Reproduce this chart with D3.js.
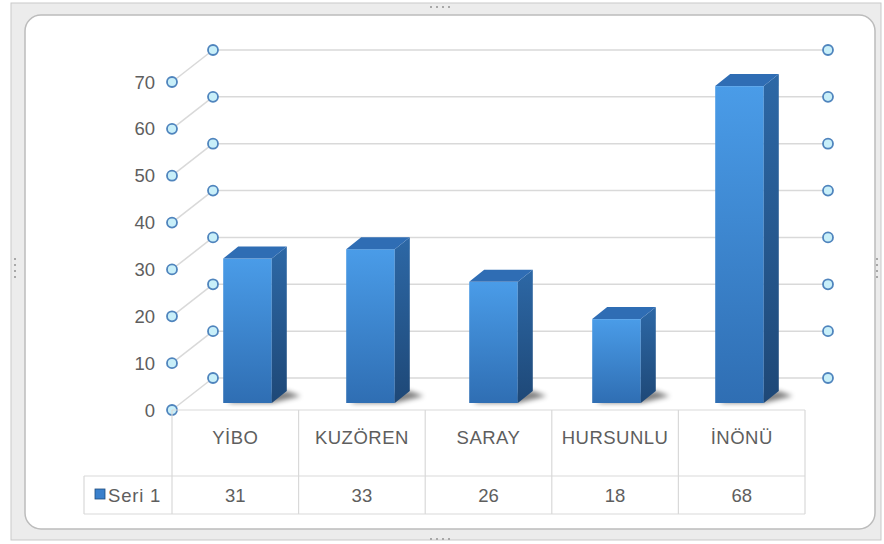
<!DOCTYPE html>
<html>
<head>
<meta charset="utf-8">
<script src="https://cdn.jsdelivr.net/npm/d3@7"></script>
<style>
    body { margin: 0; background: #fff; }
    svg { display: block; font-family: "Liberation Sans", Arial, sans-serif; }
</style>
</head>
<body>
<svg id="chart" width="884" height="544"></svg>
<script>
const categories = ['YİBO', 'KUZÖREN', 'SARAY', 'HURSUNLU', 'İNÖNÜ'];
const values = [31, 33, 26, 18, 68];
const seriesName = 'Seri 1';
const yTicks = [0, 10, 20, 30, 40, 50, 60, 70];

const svg = d3.select('#chart');

// front plane, back wall and bar plane share the same value domain
const yFront = d3.scaleLinear().domain([0, 70]).range([410, 82]);
const yBack = d3.scaleLinear().domain([0, 70]).range([378, 50]);
const yBar = d3.scaleLinear().domain([0, 70]).range([403, 403 - 70 * 4.66]);

const xTable = d3.scaleBand().domain(categories).range([172, 805]);
const xBar = d3.scaleBand().domain(categories).range([186, 801])
    .paddingInner(0.605).paddingOuter(0.3025);

const backLeft = 213, backRight = 828;
const sideDx = 15, sideDy = 12;
const textColor = '#5e5e5e';

const defs = svg.append('defs');

const front = defs.append('linearGradient').attr('id', 'front')
    .attr('x1', 0).attr('y1', 0).attr('x2', 0).attr('y2', 1);
front.append('stop').attr('offset', '0%').attr('stop-color', '#4a9ce8');
front.append('stop').attr('offset', '100%').attr('stop-color', '#2f6eb3');

const side = defs.append('linearGradient').attr('id', 'side')
    .attr('x1', 0).attr('y1', 0).attr('x2', 0).attr('y2', 1);
side.append('stop').attr('offset', '0%').attr('stop-color', '#2d68a6');
side.append('stop').attr('offset', '100%').attr('stop-color', '#1e4877');

defs.append('filter').attr('id', 'blur')
    .attr('x', '-50%').attr('y', '-50%').attr('width', '200%').attr('height', '200%')
    .append('feGaussianBlur').attr('stdDeviation', 2.5);

// --- frame
svg.append('rect')
    .attr('x', 11).attr('y', 3).attr('width', 870).attr('height', 537)
    .attr('fill', '#ececec').attr('stroke', '#c9c9c9');
svg.append('rect')
    .attr('x', 25).attr('y', 15).attr('width', 850).attr('height', 514)
    .attr('rx', 16)
    .attr('fill', '#fff').attr('stroke', '#bcbcbc').attr('stroke-width', 1.5);

const handles = [
    [430, 6, 1, 0], [430, 538, 1, 0], [14, 258, 0, 1], [876, 258, 0, 1]
];
handles.forEach(([hx, hy, ax, ay]) => {
    d3.range(4).forEach(i => {
        svg.append('rect')
            .attr('x', hx + ax * i * 6).attr('y', hy + ay * i * 6)
            .attr('width', 2).attr('height', 2).attr('fill', '#a8a8a8');
    });
});

// --- gridlines
const grid = svg.append('g').attr('stroke', '#d9d9d9').attr('stroke-width', 1.5);

grid.selectAll('line.back')
    .data(yTicks)
    .join('line')
    .attr('class', 'back')
    .attr('x1', backLeft).attr('x2', backRight)
    .attr('y1', d => yBack(d)).attr('y2', d => yBack(d));

grid.selectAll('line.wall')
    .data(yTicks)
    .join('line')
    .attr('class', 'wall')
    .attr('x1', 172).attr('y1', d => yFront(d))
    .attr('x2', backLeft).attr('y2', d => yBack(d));

// --- bars
function updateBar(d, i) {
    const g = d3.select(this);
    const x0 = xBar(d);
    const x1 = x0 + xBar.bandwidth();
    const yTop = yBar(values[i]);
    const yBase = yBar(0);

    g.append('polygon')
        .attr('points', [
            [x0 + 4, yBase], [x1, yBase], [x1 + sideDx + 14, yBase - sideDy + 5],
            [x1 + sideDx, yBase - sideDy], [x0 + 10, yBase - 4]
        ].join(' '))
        .attr('fill', '#000').attr('opacity', 0.5)
        .attr('filter', 'url(#blur)');

    g.append('rect')
        .attr('x', x0).attr('y', yTop)
        .attr('width', x1 - x0).attr('height', yBase - yTop)
        .attr('fill', 'url(#front)');

    g.append('polygon')
        .attr('points', [
            [x1, yTop], [x1 + sideDx, yTop - sideDy],
            [x1 + sideDx, yBase - sideDy], [x1, yBase]
        ].join(' '))
        .attr('fill', 'url(#side)');

    g.append('polygon')
        .attr('points', [
            [x0, yTop], [x0 + sideDx, yTop - sideDy],
            [x1 + sideDx, yTop - sideDy], [x1, yTop]
        ].join(' '))
        .attr('fill', '#2f6db4');
}

svg.append('g')
    .selectAll('g')
    .data(categories)
    .join('g')
    .each(updateBar);

// --- axis markers
function markers(xPos, yScale) {
    svg.append('g')
        .selectAll('circle')
        .data(yTicks)
        .join('circle')
        .attr('cx', xPos).attr('cy', d => yScale(d))
        .attr('r', 5)
        .attr('fill', '#c8eff9')
        .attr('stroke', '#4f84bd').attr('stroke-width', 1.8);
}
markers(backLeft, yBack);
markers(backRight, yBack);
markers(172, yFront);

svg.append('g')
    .selectAll('text')
    .data(yTicks)
    .join('text')
    .attr('x', 155).attr('y', d => yFront(d) + 6.5)
    .attr('text-anchor', 'end')
    .attr('font-size', 18.5)
    .attr('fill', textColor)
    .text(d => d);

// --- data table
const table = svg.append('g').attr('stroke', '#d9d9d9').attr('stroke-width', 1.2);
const rowTop = 410, rowMid = 476, rowBottom = 514;

table.append('line').attr('x1', 172).attr('x2', 805).attr('y1', rowTop).attr('y2', rowTop);
table.append('line').attr('x1', 84).attr('x2', 805).attr('y1', rowMid).attr('y2', rowMid);
table.append('line').attr('x1', 84).attr('x2', 805).attr('y1', rowBottom).attr('y2', rowBottom);
table.append('line').attr('x1', 84).attr('x2', 84).attr('y1', rowMid).attr('y2', rowBottom);

table.selectAll('line.col')
    .data(categories.map(c => xTable(c)).concat([xTable.range()[1]]))
    .join('line')
    .attr('class', 'col')
    .attr('x1', d => d).attr('x2', d => d)
    .attr('y1', rowTop).attr('y2', rowBottom);

svg.append('g')
    .selectAll('text')
    .data(categories)
    .join('text')
    .attr('x', d => xTable(d) + xTable.bandwidth() / 2)
    .attr('y', 444)
    .attr('text-anchor', 'middle')
    .attr('font-size', 18.5)
    .attr('letter-spacing', 0.5)
    .attr('fill', textColor)
    .text(d => d);

svg.append('g')
    .selectAll('text')
    .data(values)
    .join('text')
    .attr('x', (d, i) => xTable(categories[i]) + xTable.bandwidth() / 2)
    .attr('y', 502)
    .attr('text-anchor', 'middle')
    .attr('font-size', 18.5)
    .attr('fill', textColor)
    .text(d => d);

svg.append('rect')
    .attr('x', 95).attr('y', 489).attr('width', 10).attr('height', 10)
    .attr('fill', '#3a80cc').attr('stroke', '#1f4b7d').attr('stroke-width', 0.8);
svg.append('text')
    .attr('x', 108).attr('y', 502)
    .attr('font-size', 18.5)
    .attr('letter-spacing', 0.8)
    .attr('fill', textColor)
    .text(seriesName);
</script>
</body>
</html>
